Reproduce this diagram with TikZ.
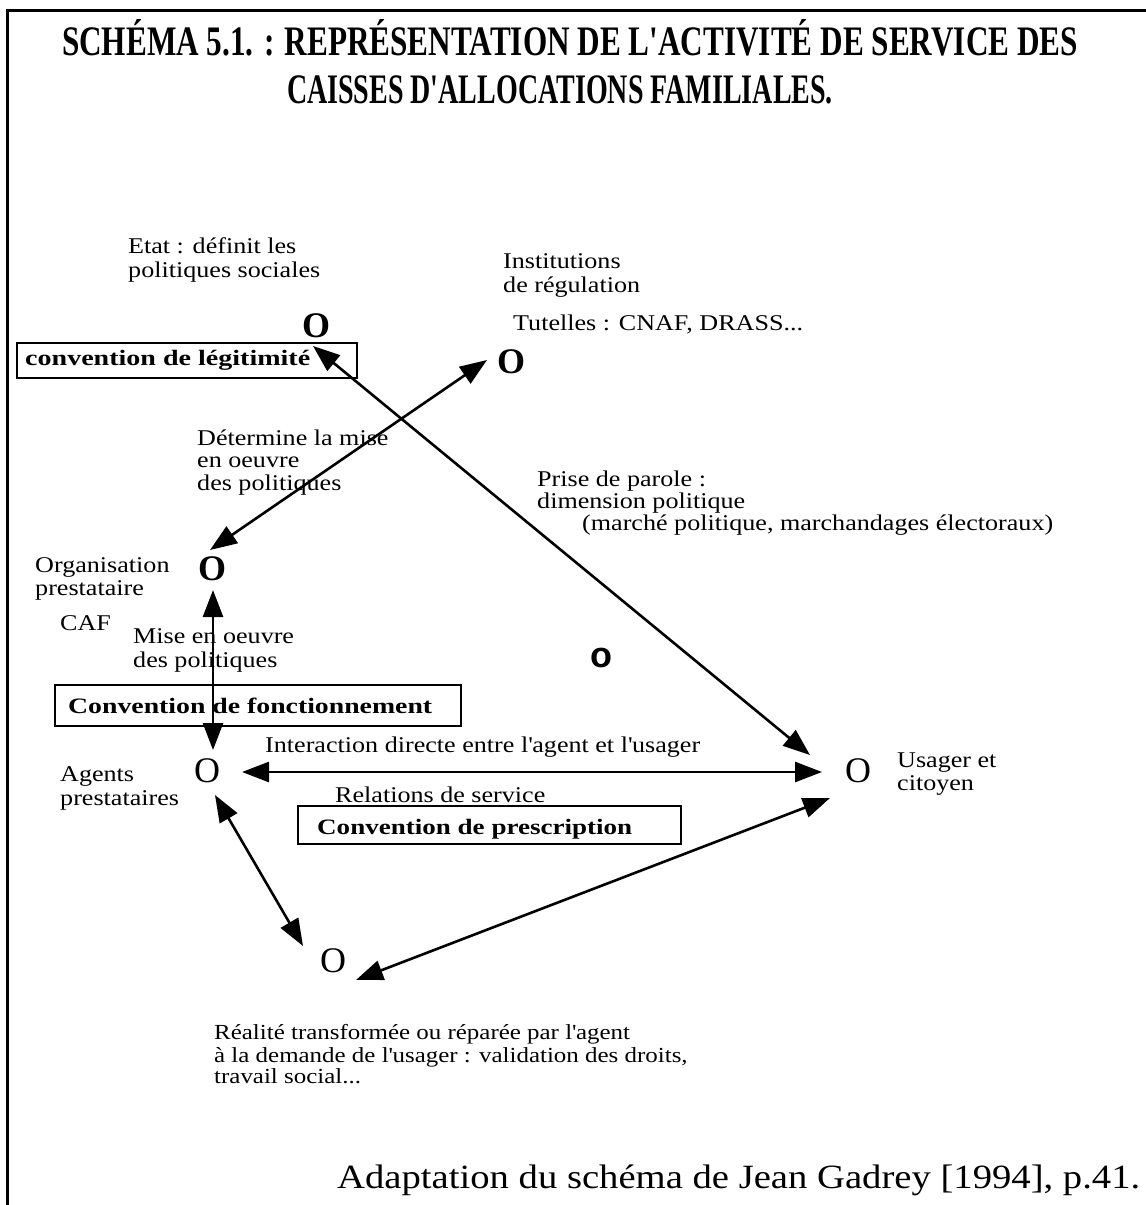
\documentclass[tikz,border=0pt]{standalone}
\usepackage{fontspec}
\usepackage{graphicx}
\setmainfont{Liberation Serif}
\newfontfamily\bodyfont{Liberation Serif}[FakeStretch=1.16]
\newfontfamily\sansfam{Liberation Sans}
\usetikzlibrary{arrows.meta}

% stretch a line of text to a given width (in pt), keeping its height
\newcommand\fitw[2]{\resizebox{#1pt}{\height}{#2}}
% straight apostrophe
\newcommand\ap{\textquotesingle}

\tikzset{
  lbl/.style={anchor=base west, inner sep=0pt, font=\fontsize{22.5}{26}\bodyfont},
  small/.style={anchor=base west, inner sep=0pt, font=\fontsize{21.5}{24}\bodyfont},
  boxlbl/.style={anchor=base west, inner sep=0pt, font=\fontsize{22}{26}\selectfont\bfseries},
  conv/.style={draw, line width=2.4pt, anchor=north west, inner sep=0pt},
  actor/.style={inner sep=0pt, font=\fontsize{36}{36}\selectfont\bfseries},
  actorreg/.style={inner sep=0pt, font=\fontsize{36}{36}\selectfont},
  link/.style={line width=2.6pt, {Triangle[length=27pt,width=20pt]}-{Triangle[length=27pt,width=20pt]}},
}

\begin{document}
\begin{tikzpicture}[x=1pt, y=-1pt]
  \useasboundingbox (0,0) rectangle (1146,1205);
  \fill[white] (0,0) rectangle (1146,1205);

  % frame
  \draw[line width=3pt] (7,1205) -- (7,10) -- (1146,10);

  % heading
  \node[inner sep=0pt, anchor=base, font=\fontsize{42}{48}\selectfont\bfseries] (title1) at (570,55)
    {\fitw{1016}{SCHÉMA 5.1. : REPRÉSENTATION DE L\ap ACTIVITÉ DE SERVICE DES}};
  \node[inner sep=0pt, anchor=base, font=\fontsize{42}{48}\selectfont\bfseries] (title2) at (560,103)
    {\fitw{546}{CAISSES D\ap ALLOCATIONS FAMILIALES.}};

  % actors
  \node[actor] (etat) at (316,326) {O};
  \node[actor] (inst) at (511,362) {O};
  \node[actor] (org) at (212,569) {O};
  \node[actorreg] (agents) at (207,771) {O};
  \node[actorreg] (usager) at (858,771) {O};
  \node[actorreg] (reel) at (333,961) {O};
  \node[inner sep=0pt, font=\fontsize{36}{36}\selectfont\sansfam\bfseries] (midpt) at (601,658) {o};

  % labels
  \node[lbl] (etatA) at (128,253) {Etat : définit les};
  \node[lbl] (etatB) at (128,277) {politiques sociales};
  \node[lbl] (instA) at (503,268) {Institutions};
  \node[lbl] (instB) at (503,292) {de régulation};
  \node[lbl] (tut) at (513,330) {Tutelles : CNAF, DRASS...};
  \node[lbl] (detA) at (197,445) {Détermine la mise};
  \node[lbl] (detB) at (197,467) {en oeuvre};
  \node[lbl] (detC) at (197,490) {des politiques};
  \node[lbl] (priseA) at (537,486) {Prise de parole :};
  \node[lbl] (priseB) at (537,508) {dimension politique};
  \node[lbl] (priseC) at (582,530) {(marché politique, marchandages électoraux)};
  \node[lbl] (orgA) at (35,572) {Organisation};
  \node[lbl] (orgB) at (35,595) {prestataire};
  \node[lbl] (caf) at (60,630) {CAF};
  \node[lbl] (miseA) at (133,643) {Mise en oeuvre};
  \node[lbl] (miseB) at (133,667) {des politiques};
  \node[lbl] (inter) at (265,752) {Interaction directe entre l\ap agent et l\ap usager};
  \node[lbl] (agA) at (60,781) {Agents};
  \node[lbl] (agB) at (60,805) {prestataires};
  \node[lbl] (usA) at (897,767) {Usager et};
  \node[lbl] (usB) at (897,790) {citoyen};
  \node[lbl] (rel) at (335,802) {Relations de service};
  \node[small] (realA) at (214,1039) {Réalité transformée ou réparée par l\ap agent};
  \node[small] (realB) at (214,1062) {à la demande de l\ap usager : validation des droits,};
  \node[small] (realC) at (214,1083) {travail social...};

  % conventions
  \node[conv, minimum width=340pt, minimum height=35pt] (legit) at (16,342) {};
  \node[boxlbl] (legitT) at (25,365) {\fitw{285}{convention de légitimité}};
  \node[conv, minimum width=406pt, minimum height=41pt] (fonct) at (54,684) {};
  \node[boxlbl] (fonctT) at (68,713) {\fitw{364}{Convention de fonctionnement}};
  \node[conv, minimum width=383pt, minimum height=38pt] (presc) at (297,805) {};
  \node[boxlbl] (prescT) at (317,834) {\fitw{315}{Convention de prescription}};

  % arrow ends beside the actors
  \coordinate (etatE) at (313,346);
  \coordinate (usagerN) at (810,755);
  \coordinate (instW) at (487,360);
  \coordinate (orgNE) at (210,550);
  \coordinate (orgS) at (213,590);
  \coordinate (agentsN) at (213,750);
  \coordinate (agentsE) at (242,772);
  \coordinate (usagerW) at (822,772);
  \coordinate (agentsSE) at (215,795);
  \coordinate (reelNW) at (303,946);
  \coordinate (reelE) at (356,980);
  \coordinate (usagerSW) at (830,798);

  \draw[link] (etatE) -- (usagerN);
  \draw[link] (orgNE) -- (instW);
  \draw[link] (orgS) -- (agentsN);
  \draw[link] (agentsE) -- (usagerW);
  \draw[link] (agentsSE) -- (reelNW);
  \draw[link] (reelE) -- (usagerSW);

  % source
  \node[inner sep=0pt, anchor=base west, font=\fontsize{34}{40}\selectfont] (source) at (337,1188)
    {\fitw{803}{Adaptation du schéma de Jean Gadrey [1994], p.41.}};
\end{tikzpicture}
\end{document}
